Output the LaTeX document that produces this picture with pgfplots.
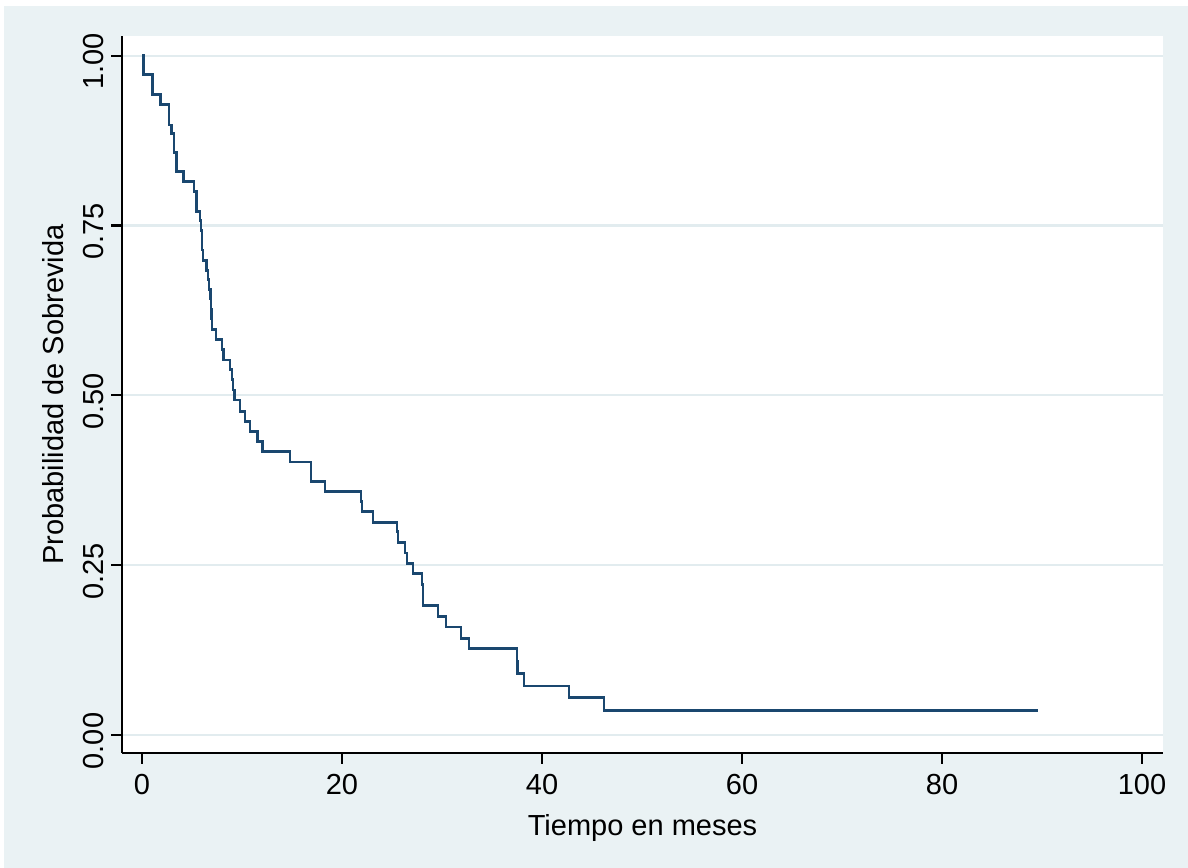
\documentclass[border=0pt]{standalone}
\usepackage{pgfplots}
\pgfplotsset{compat=1.18}
\usepackage{fontspec}
\setmainfont{Liberation Sans}
\definecolor{bgc}{RGB}{234,242,244}
\definecolor{gridc}{RGB}{226,236,239}
\definecolor{navy}{RGB}{26,71,111}
\begin{document}
\begin{tikzpicture}
\fill[white] (0,0) rectangle (594bp,434bp);
\fill[bgc] (2bp,0) rectangle (594bp,431bp);
\begin{axis}[
  at={(61bp,57.5bp)}, anchor=south west,
  scale only axis, width=520.5bp, height=358.5bp,
  xmin=-2, xmax=102.1, ymin=-0.0265, ymax=1.029,
  axis x line*=bottom, axis y line*=left,
  axis line style={black, line width=1.2bp, -},
  axis background/.style={fill=white},
  xtick={0,20,40,60,80,100},
  ytick={0,0.25,0.5,0.75,1},
  tick align=outside,
  major tick length=5.5bp,
  every tick/.style={black, line width=1.1bp},
  ymajorgrids,
  grid style={gridc, line width=1.1bp},
  /pgf/number format/assume math mode=true,
  yticklabel style={/pgf/number format/fixed, /pgf/number format/zerofill, /pgf/number format/precision=2, rotate=90, anchor=south, xshift=-3bp, font=\fontsize{14.5bp}{16bp}\selectfont},
  xticklabel style={yshift=-1.5bp, font=\fontsize{14.5bp}{16bp}\selectfont},
  scaled y ticks=false,
  xlabel={Tiempo en meses},
  ylabel={Probabilidad de Sobrevida},
  xlabel style={yshift=-3bp},
  ylabel style={yshift=3bp},
  label style={font=\fontsize{14.5bp}{16bp}\selectfont},
  clip=false,
]
\addplot[const plot, navy, line width=1.4bp] coordinates {
(0,1.000)
(0.15,0.972)
(1.07,0.943)
(1.87,0.928)
(2.70,0.898)
(2.97,0.885)
(3.20,0.857)
(3.47,0.830)
(4.13,0.815)
(5.20,0.800)
(5.47,0.771)
(5.80,0.757)
(5.90,0.743)
(6.00,0.714)
(6.10,0.699)
(6.47,0.684)
(6.60,0.670)
(6.70,0.656)
(6.85,0.642)
(6.90,0.627)
(6.95,0.613)
(7.00,0.597)
(7.40,0.582)
(8.00,0.567)
(8.15,0.552)
(8.80,0.538)
(9.00,0.523)
(9.10,0.508)
(9.25,0.493)
(9.80,0.476)
(10.3,0.461)
(10.8,0.447)
(11.53,0.432)
(12.07,0.417)
(14.8,0.402)
(16.9,0.373)
(18.3,0.358)
(21.9,0.344)
(22.0,0.329)
(23.1,0.313)
(25.5,0.299)
(25.6,0.283)
(26.3,0.268)
(26.5,0.253)
(27.1,0.238)
(28.0,0.222)
(28.1,0.191)
(29.6,0.174)
(30.4,0.159)
(31.9,0.142)
(32.7,0.127)
(37.5,0.109)
(37.55,0.091)
(38.2,0.072)
(42.7,0.055)
(46.2,0.036)
(89.6,0.036)
};
\end{axis}
\end{tikzpicture}
\end{document}
